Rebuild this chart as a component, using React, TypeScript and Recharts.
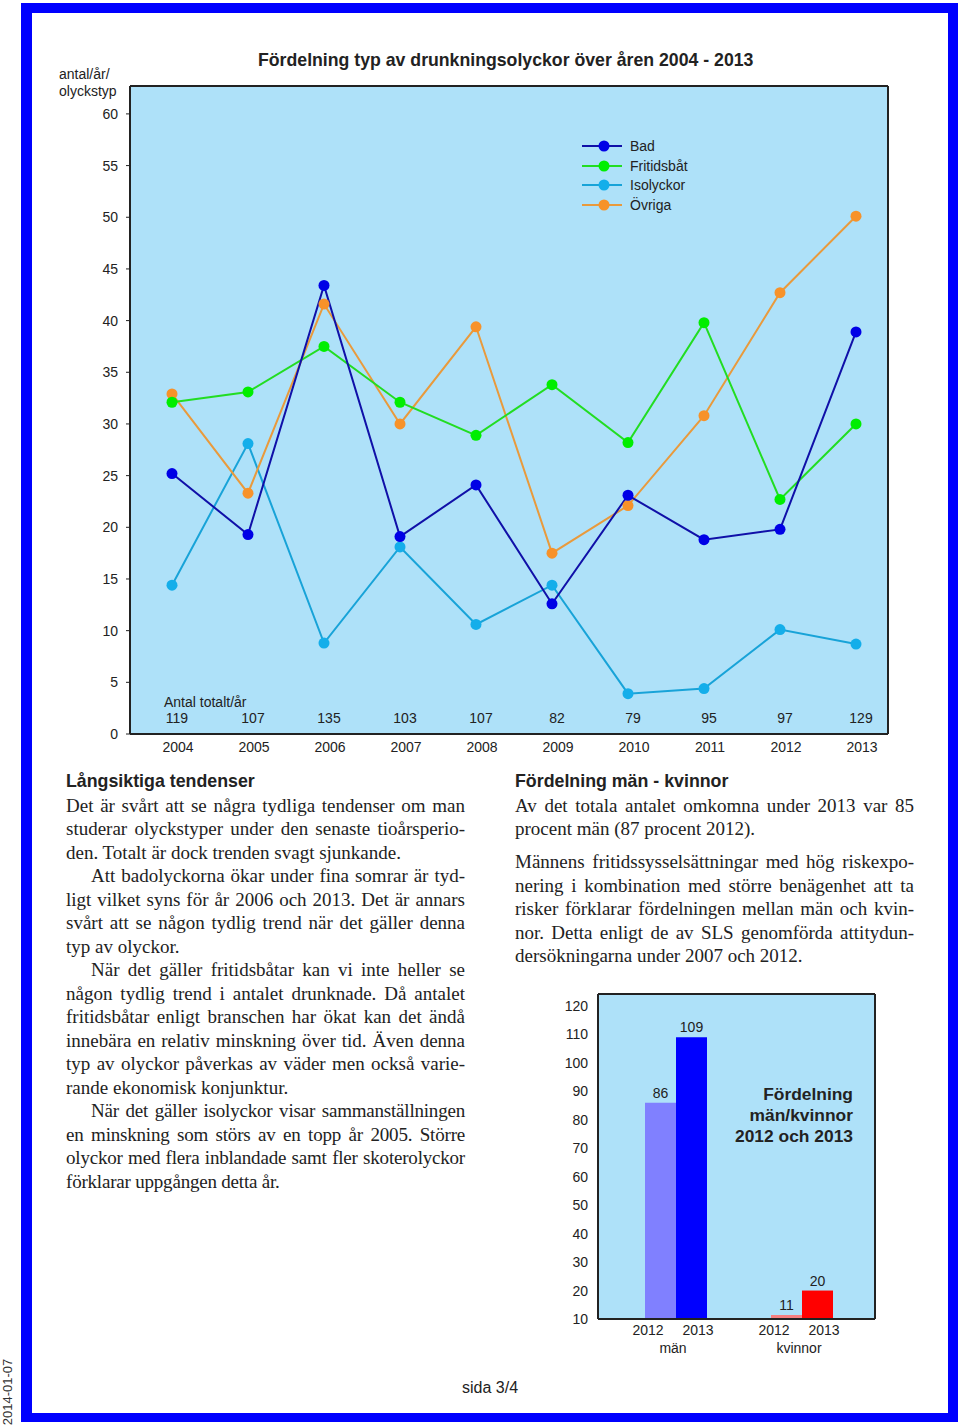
import {
  LineChart, Line, XAxis, YAxis, Legend, CartesianGrid,
  BarChart, Bar, Cell, LabelList,
} from 'recharts'

const YEARS = ['2004', '2005', '2006', '2007', '2008', '2009', '2010', '2011', '2012', '2013']
const BAD = [25.2, 19.3, 43.4, 19.1, 24.1, 12.6, 23.1, 18.8, 19.8, 38.9]
const FRITIDSBAT = [32.1, 33.1, 37.5, 32.1, 28.9, 33.8, 28.2, 39.8, 22.7, 30.0]
const ISOLYCKOR = [14.4, 28.1, 8.8, 18.1, 10.6, 14.4, 3.9, 4.4, 10.1, 8.7]
const OVRIGA = [32.9, 23.3, 41.6, 30.0, 39.4, 17.5, 22.1, 30.8, 42.7, 50.1]
const TOTALS = [119, 107, 135, 103, 107, 82, 79, 95, 97, 129]
const LINE_TICKS = [0, 5, 10, 15, 20, 25, 30, 35, 40, 45, 50, 55, 60]

const GROUPS = ['män', 'kvinnor']
const VALUES_2012 = [86, 11]
const VALUES_2013 = [109, 20]
const BAR_TICKS = [10, 20, 30, 40, 50, 60, 70, 80, 90, 100, 110, 120]

const PLOT_BG = '#aee1f9'
const INK = '#222'
const SANS = '"Liberation Sans", Arial, sans-serif'
const SERIF = '"Liberation Serif", "Times New Roman", serif'

const SERIES = [
  { key: 'iso', name: 'Isolyckor', line: '#18a3d8', dot: '#14aeea' },
  { key: 'ovr', name: 'Övriga', line: '#e99a3c', dot: '#f7922a' },
  { key: 'fri', name: 'Fritidsbåt', line: '#22dd22', dot: '#00ee00' },
  { key: 'bad', name: 'Bad', line: '#1010a8', dot: '#0000e6' },
]
const LEGEND_ORDER = ['bad', 'fri', 'iso', 'ovr']

const lineData = YEARS.map((year, i) => ({
  year,
  bad: BAD[i],
  fri: FRITIDSBAT[i],
  iso: ISOLYCKOR[i],
  ovr: OVRIGA[i],
}))

const barData = GROUPS.map((group, i) => ({ group, y2012: VALUES_2012[i], y2013: VALUES_2013[i] }))

const LEFT_TEXT = [
  { lines: [
    'Det är svårt att se några tydliga tendenser om man',
    'studerar olyckstyper under den senaste tioårsperio-',
    'den. Totalt är dock trenden svagt sjunkande.',
  ] },
  { indent: true, lines: [
    'Att badolyckorna ökar under fina somrar är tyd-',
    'ligt vilket syns för år 2006 och 2013. Det är annars',
    'svårt att se någon tydlig trend när det gäller denna',
    'typ av olyckor.',
  ] },
  { indent: true, lines: [
    'När det gäller fritidsbåtar kan vi inte heller se',
    'någon tydlig trend i antalet drunknade. Då antalet',
    'fritidsbåtar enligt branschen har ökat kan det ändå',
    'innebära en relativ minskning över tid. Även denna',
    'typ av olyckor påverkas av väder men också varie-',
    'rande ekonomisk konjunktur.',
  ] },
  { indent: true, tight: true, lines: [
    'När det gäller isolyckor visar sammanställningen',
    'en minskning som störs av en topp år 2005. Större',
    'olyckor med flera inblandade samt fler skoterolyckor',
    'förklarar uppgången detta år.',
  ] },
]

const RIGHT_TEXT = [
  { lines: [
    'Av det totala antalet omkomna under 2013 var 85',
    'procent män (87 procent 2012).',
  ] },
  { gap: 9.5, lines: [
    'Männens fritidssysselsättningar med hög riskexpo-',
    'nering i kombination med större benägenhet att ta',
    'risker förklarar fördelningen mellan män och kvin-',
    'nor. Detta enligt de av SLS genomförda attitydun-',
    'dersökningarna under 2007 och 2012.',
  ] },
]

function Paragraph({ lines, indent, gap, tight }: { lines: string[]; indent?: boolean; gap?: number; tight?: boolean }) {
  return (
    <div style={{ marginTop: gap || 0, letterSpacing: tight ? -0.2 : 0 }}>
      {lines.map((l, i) => (
        <div
          key={i}
          style={{
            textAlign: 'justify',
            textAlignLast: i === lines.length - 1 ? 'left' : 'justify',
            textIndent: indent && i === 0 ? 25 : 0,
            whiteSpace: 'nowrap',
          }}
        >
          {l}
        </div>
      ))}
    </div>
  )
}

// frame lines on the plot edges, taken from the chart's own offset
const frameH = ({ offset }: any) => [offset.top, offset.top + offset.height]
const frameV = ({ offset }: any) => [offset.left, offset.left + offset.width]

function YearTick(props: any) {
  const { x, y, payload, index } = props
  return (
    <g fontFamily={SANS} fontSize={14} fill={INK}>
      {index === 0 && (
        <text x={x - 8} y={y - 27} textAnchor="start" fill={INK}>Antal totalt/år</text>
      )}
      <text x={x + 5} y={y - 11} textAnchor="middle" fill={INK}>{TOTALS[index]}</text>
      <text x={x + 6} y={y + 18} textAnchor="middle" fill={INK}>{payload.value}</text>
    </g>
  )
}

function GroupTick(props: any) {
  const { x, y, payload } = props
  return (
    <g fontFamily={SANS} fontSize={14} fill={INK}>
      <text x={x - 28} y={y + 16} textAnchor="middle" fill={INK}>2012</text>
      <text x={x + 22} y={y + 16} textAnchor="middle" fill={INK}>2013</text>
      <text x={x - 3} y={y + 34} textAnchor="middle" fill={INK}>{payload.value}</text>
    </g>
  )
}

function LegendBox() {
  return (
    <div style={{ fontFamily: SANS, fontSize: 14, color: INK }}>
      {LEGEND_ORDER.map((k) => {
        const s = SERIES.find((d) => d.key === k)!
        return (
          <div key={k} style={{ display: 'flex', alignItems: 'center', height: 19.7 }}>
            <svg width={48} height={12} style={{ display: 'block' }}>
              <line x1={0} x2={40} y1={6} y2={6} stroke={s.line} strokeWidth={2} />
              <circle cx={22} cy={6} r={5.5} fill={s.dot} />
            </svg>
            <span>{s.name}</span>
          </div>
        )
      })}
    </div>
  )
}

function TrendChart() {
  return (
    <LineChart width={960} height={780} data={lineData} margin={{ top: 86, right: 72, bottom: 16, left: 90 }}>
      <CartesianGrid
        fill={PLOT_BG}
        stroke={INK}
        strokeWidth={2}
        horizontalCoordinatesGenerator={frameH}
        verticalCoordinatesGenerator={frameV}
      />
      <XAxis
        dataKey="year"
        interval={0}
        padding={{ left: 42, right: 32 }}
        height={30}
        tickSize={0}
        tickMargin={0}
        tickLine={false}
        axisLine={{ stroke: INK, strokeWidth: 2 }}
        tick={<YearTick />}
      />
      <YAxis
        width={40}
        domain={[0, 62.7]}
        ticks={LINE_TICKS}
        interval={0}
        allowDataOverflow
        tickSize={4}
        tickMargin={8}
        tickLine={{ stroke: INK }}
        axisLine={{ stroke: INK, strokeWidth: 2 }}
        tick={{ fill: INK, fontSize: 14, fontFamily: SANS }}
      />
      <Legend
        layout="vertical"
        align="center"
        verticalAlign="middle"
        content={<LegendBox />}
        wrapperStyle={{ left: 582, top: 136, width: 130, height: 80 }}
      />
      {SERIES.map((s) => (
        <Line
          key={s.key}
          dataKey={s.key}
          name={s.name}
          type="linear"
          stroke={s.line}
          strokeWidth={2}
          dot={{ r: 5.5, fill: s.dot, stroke: s.dot, strokeWidth: 0 }}
          activeDot={false}
          isAnimationActive={false}
        />
      ))}
    </LineChart>
  )
}

function GenderChart() {
  return (
    <BarChart width={360} height={390} data={barData} margin={{ top: 14, right: 25, bottom: 6, left: 8 }}
      barSize={31} barGap={0}>
      <CartesianGrid
        fill={PLOT_BG}
        stroke={INK}
        strokeWidth={2}
        horizontalCoordinatesGenerator={frameH}
        verticalCoordinatesGenerator={frameV}
      />
      <XAxis
        dataKey="group"
        interval={0}
        padding={{ left: 15, right: 10 }}
        height={45}
        tickSize={0}
        tickMargin={0}
        tickLine={false}
        axisLine={{ stroke: INK, strokeWidth: 2 }}
        tick={<GroupTick />}
      />
      <YAxis
        width={50}
        domain={[10, 124.2]}
        ticks={BAR_TICKS}
        interval={0}
        allowDataOverflow
        tickSize={4}
        tickMargin={6}
        tickLine={false}
        axisLine={{ stroke: INK, strokeWidth: 2 }}
        tick={{ fill: INK, fontSize: 14, fontFamily: SANS }}
      />
      <Bar dataKey="y2012" isAnimationActive={false} minPointSize={4}>
        <Cell fill="#8080ff" />
        <Cell fill="#f58080" />
        <LabelList dataKey="y2012" position="top" offset={5} fill={INK} fontSize={14} fontFamily={SANS} />
      </Bar>
      <Bar dataKey="y2013" isAnimationActive={false}>
        <Cell fill="#0000ff" />
        <Cell fill="#ff0000" />
        <LabelList dataKey="y2013" position="top" offset={5} fill={INK} fontSize={14} fontFamily={SANS} />
      </Bar>
    </BarChart>
  )
}

export default function App() {
  return (
    <div style={{ position: 'absolute', left: 0, top: 0, width: 960, height: 1428, background: '#fff', overflow: 'hidden', color: INK }}>
      <div style={{
        position: 'absolute', left: 21, top: 3, width: 937, height: 1419, boxSizing: 'border-box',
        borderStyle: 'solid', borderColor: '#0000ff', borderWidth: '10px 10px 9px 11px',
      }} />

      <div style={{ position: 'absolute', left: 0, top: 0 }}>
        <TrendChart />
      </div>

      <div style={{ position: 'absolute', left: 258, top: 49, fontFamily: SANS, fontWeight: 'bold', fontSize: 17.7, lineHeight: '22px', whiteSpace: 'nowrap' }}>
        Fördelning typ av drunkningsolyckor över åren 2004 - 2013
      </div>
      <div style={{ position: 'absolute', left: 59, top: 66, fontFamily: SANS, fontSize: 14, lineHeight: '17px' }}>
        <div>antal/år/</div>
        <div>olyckstyp</div>
      </div>

      <div style={{ position: 'absolute', left: 66, top: 770, width: 399, fontFamily: SERIF, fontSize: 19, lineHeight: '23.5px' }}>
        <div style={{ fontFamily: SANS, fontWeight: 'bold', fontSize: 17.8 }}>Långsiktiga tendenser</div>
        {LEFT_TEXT.map((p, i) => <Paragraph key={i} {...p} />)}
      </div>

      <div style={{ position: 'absolute', left: 515, top: 770, width: 399, fontFamily: SERIF, fontSize: 19, lineHeight: '23.5px' }}>
        <div style={{ fontFamily: SANS, fontWeight: 'bold', fontSize: 17.8 }}>Fördelning män - kvinnor</div>
        {RIGHT_TEXT.map((p, i) => <Paragraph key={i} {...p} />)}
      </div>

      <div style={{ position: 'absolute', left: 540, top: 980 }}>
        <GenderChart />
      </div>
      <div style={{ position: 'absolute', left: 700, top: 1084, width: 153, textAlign: 'right', fontFamily: SANS, fontWeight: 'bold', fontSize: 17.4, lineHeight: '21px' }}>
        <div>Fördelning</div>
        <div>män/kvinnor</div>
        <div>2012 och 2013</div>
      </div>

      <div style={{ position: 'absolute', left: 462, top: 1379, fontFamily: SANS, fontSize: 16, lineHeight: '18px' }}>sida 3/4</div>
      <div style={{
        position: 'absolute', left: 8, top: 1392, fontFamily: SANS, fontSize: 13, lineHeight: '14px', color: '#333',
        transform: 'translate(-50%, -50%) rotate(-90deg)', whiteSpace: 'nowrap',
      }}>2014-01-07</div>
    </div>
  )
}
